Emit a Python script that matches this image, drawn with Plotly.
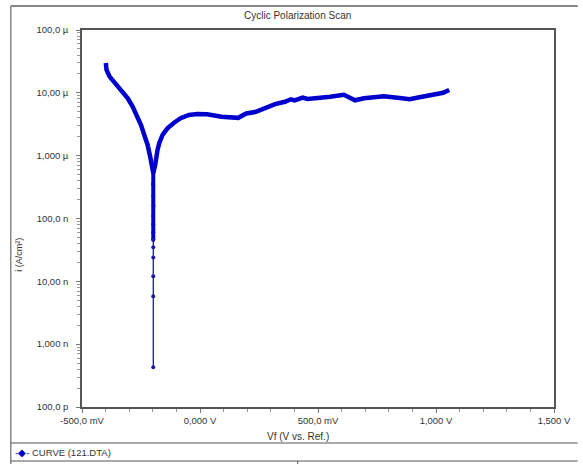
import plotly.graph_objects as go

# ---- data (potential in V, current density in A/cm²) ----
E_cathodic = [-0.399, -0.396, -0.383, -0.362, -0.334, -0.306, -0.285, -0.264, -0.250,
              -0.236, -0.222, -0.211, -0.204, -0.198]
I_cathodic = [2.99e-5, 2.31e-5, 1.81e-5, 1.45e-5, 1.11e-5, 8.17e-6, 6.0e-6, 4.17e-6, 3.08e-6,
              2.13e-6, 1.48e-6, 9.6e-7, 7.1e-7, 5.3e-7]

E_dip_dense = [-0.198, -0.199, -0.198, -0.197, -0.198, -0.198, -0.198, -0.198]
I_dip_dense = [5.3e-7, 3.5e-7, 2.3e-7, 1.6e-7, 1.1e-7, 8.0e-8, 6.0e-8, 4.6e-8]

E_dip_tail = [-0.198, -0.198, -0.198, -0.198, -0.198, -0.198]
I_dip_tail = [4.6e-8, 3.5e-8, 2.4e-8, 1.2e-8, 5.8e-9, 4.3e-10]

E_anodic = [-0.198, -0.190, -0.180, -0.173, -0.159, -0.138, -0.110, -0.082, -0.047, -0.012,
            0.030, 0.091, 0.162, 0.196, 0.234, 0.276, 0.318, 0.360, 0.385, 0.401, 0.435,
            0.456, 0.485, 0.527, 0.552, 0.610, 0.636, 0.657, 0.695, 0.779, 0.846, 0.888,
            0.930, 0.988, 1.030, 1.056]
I_anodic = [5.3e-7, 7.1e-7, 1.23e-6, 1.57e-6, 2.13e-6, 2.72e-6, 3.35e-6, 3.94e-6, 4.44e-6, 4.6e-6,
            4.55e-6, 4.16e-6, 4.0e-6, 4.7e-6, 4.96e-6, 5.74e-6, 6.6e-6, 7.2e-6, 7.9e-6,
            7.6e-6, 8.4e-6, 8.0e-6, 8.1e-6, 8.4e-6, 8.67e-6, 9.3e-6, 8.18e-6, 7.6e-6,
            8.18e-6, 8.8e-6, 8.3e-6, 7.9e-6, 8.49e-6, 9.23e-6, 1.0e-5, 1.11e-5]

x_tickvals = [-0.5, 0.0, 0.5, 1.0, 1.5]
x_ticktext = ["-500,0 mV", "0,000 V", "500,0 mV", "1,000 V", "1,500 V"]
y_tickvals = [1e-10, 1e-9, 1e-8, 1e-7, 1e-6, 1e-5, 1e-4]
y_ticktext = ["100,0 p", "1,000 n", "10,00 n", "100,0 n", "1,000 µ", "10,00 µ", "100,0 µ"]

series_name = "CURVE (121.DTA)"
title_text = "Cyclic Polarization Scan"
x_title = "Vf (V vs. Ref.)"
y_title = "i (A/cm²)"

BLUE = "#0000CD"
DOT = "#1a1a9a"
FONT = "Liberation Sans, Arial, sans-serif"
TXT = "#333"

fig = go.Figure()
fig.add_trace(go.Scatter(x=E_cathodic, y=I_cathodic, mode="lines", name=series_name,
                         line=dict(color=BLUE, width=4.5), showlegend=False))
fig.add_trace(go.Scatter(x=E_dip_dense, y=I_dip_dense, mode="lines+markers", name=series_name,
                         line=dict(color=BLUE, width=4),
                         marker=dict(color=BLUE, size=4), showlegend=False))
fig.add_trace(go.Scatter(x=E_dip_tail, y=I_dip_tail, mode="lines+markers", name=series_name,
                         line=dict(color=BLUE, width=1.2),
                         marker=dict(color=DOT, size=4, symbol="circle"),
                         showlegend=False))
fig.add_trace(go.Scatter(x=E_anodic, y=I_anodic, mode="lines", name=series_name,
                         line=dict(color=BLUE, width=4.5), showlegend=False))

minor_y = [m * 10.0 ** k for k in range(-10, -4) for m in range(2, 10)]
minor_x = [round(-0.5 + 0.1 * i, 2) for i in range(21)]

W, H = 583, 464
L, R, T, B = 82, 24, 30, 57
pw, ph = W - L - R, H - T - B


def px(x):
    return (x - L) / pw


def py(y):
    return (H - B - y) / ph


fig.update_layout(
    width=W, height=H,
    margin=dict(l=L, r=R, t=T, b=B),
    paper_bgcolor="white", plot_bgcolor="white",
    font=dict(family=FONT, size=9, color=TXT),
    showlegend=False,
    xaxis=dict(range=[-0.5, 1.5], tickvals=x_tickvals, ticktext=x_ticktext,
               ticks="outside", ticklen=4, tickcolor="#777", showgrid=False,
               zeroline=False, showline=True, linecolor="#555", linewidth=1.5,
               mirror=True, tickfont=dict(size=9.5, color=TXT),
               minor=dict(tickvals=minor_x, ticks="outside", ticklen=3, tickcolor="#999")),
    yaxis=dict(type="log", range=[-10, -4], tickvals=y_tickvals, ticktext=y_ticktext,
               ticks="outside", ticklen=4, tickcolor="#777", showgrid=False,
               zeroline=False, showline=True, linecolor="#555", linewidth=1.5,
               mirror=True, tickfont=dict(size=9.5, color=TXT), ticklabelstandoff=6,
               minor=dict(tickvals=minor_y, ticks="outside", ticklen=3, tickcolor="#999")),
)

annotations = [
    dict(text=title_text, x=px(300), y=py(16), xref="paper", yref="paper",
         xanchor="center", yanchor="middle",
         showarrow=False, font=dict(size=10, color=TXT)),
    dict(text=x_title, x=px(300), y=py(436), xref="paper", yref="paper",
         xanchor="center", yanchor="middle",
         showarrow=False, font=dict(size=10, color=TXT)),
    dict(text=y_title, x=px(18), y=py(255), xref="paper", yref="paper",
         xanchor="center", yanchor="middle",
         showarrow=False, textangle=-90, font=dict(size=9, color=TXT)),
    dict(text=f"<span style='color:{BLUE}'>-◆-</span> {series_name}",
         x=px(12), y=py(452), xref="paper", yref="paper", xanchor="left", yanchor="middle",
         showarrow=False, font=dict(size=9.5, color=TXT)),
]
fig.update_layout(annotations=annotations)

shapes = [
    # outer frame
    dict(type="line", xref="paper", yref="paper", x0=px(10), x1=px(583), y0=py(6), y1=py(6),
         line=dict(color="#888", width=2)),
    dict(type="line", xref="paper", yref="paper", x0=px(10), x1=px(10), y0=py(6), y1=py(464),
         line=dict(color="#888", width=1.5)),
    # legend separators
    dict(type="line", xref="paper", yref="paper", x0=px(10), x1=px(583), y0=py(443), y1=py(443),
         line=dict(color="#555", width=1)),
    dict(type="line", xref="paper", yref="paper", x0=px(10), x1=px(583), y0=py(461), y1=py(461),
         line=dict(color="#555", width=1)),
    dict(type="line", xref="paper", yref="paper", x0=px(300), x1=px(300), y0=py(461), y1=py(464),
         line=dict(color="#555", width=1)),
]
fig.update_layout(shapes=shapes)

fig.write_html("out.html", config={"displayModeBar": False},
               post_script="document.body.style.margin='0';document.body.style.overflow='hidden';")
